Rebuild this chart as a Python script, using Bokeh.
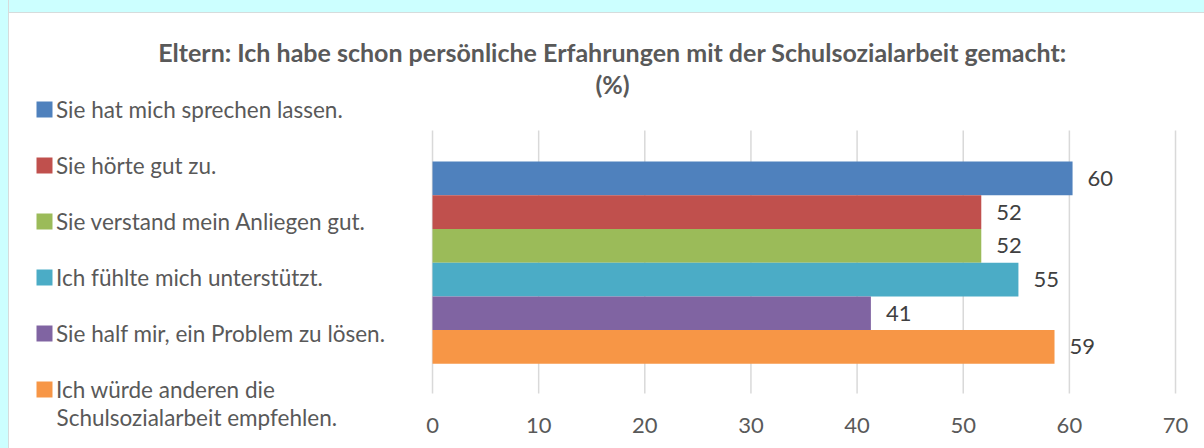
from bokeh.plotting import figure
from bokeh.models import Label, Legend, LegendItem, Range1d
from bokeh.embed import file_html
from bokeh.resources import INLINE
from bokeh.core.properties import value

title_line1 = "Eltern: Ich habe schon persönliche Erfahrungen mit der Schulsozialarbeit gemacht:"
title_line2 = "(%)"
categories = [
    "Sie hat mich sprechen lassen.",
    "Sie hörte gut zu.",
    "Sie verstand mein Anliegen gut.",
    "Ich fühlte mich unterstützt.",
    "Sie half mir, ein Problem zu lösen.",
    "Ich würde anderen die\nSchulsozialarbeit empfehlen.",
]
values = [60.3, 51.7, 51.7, 55.2, 41.3, 58.6]
colors = ["#4f81bd", "#c0504d", "#9bbb59", "#4bacc6", "#8064a2", "#f79646"]
x_ticks = [0, 10, 20, 30, 40, 50, 60, 70]
x_tick_labels = ["0", "10", "20", "30", "40", "50", "60", "70"]

FONT = "Lato"
TEXT = "#595959"

n = len(categories)
ypos = [n - 1 - i for i in range(n)]
value_labels = [f"{v:.0f}" for v in values]

# plot area: value 0 at 432px, 70 at 1175px; bars 161px..363px
p = figure(width=1204, height=448, output_backend="svg", toolbar_location=None,
           x_range=Range1d(-40.70, 72.73), y_range=Range1d(-3.011, 10.275),
           min_border=0)
p.border_fill_color = None
p.background_fill_color = None
p.outline_line_color = None
p.axis.visible = False
p.grid.visible = False

GRID_Y0, GRID_Y1, TICK_Y = -1.38, 6.42, -2.33
p.segment(x0=x_ticks, x1=x_ticks, y0=[GRID_Y0] * len(x_ticks), y1=[GRID_Y1] * len(x_ticks),
          line_color="#d9d9d9", line_width=1.5)
p.text(x=x_ticks, y=[TICK_Y] * len(x_ticks), text=x_tick_labels,
       text_align="center", text_baseline="middle",
       text_font=value(FONT), text_font_size="22px", text_color=TEXT)

items = []
extra_lines = []
for i in range(n):
    r = p.hbar(y=ypos[i], left=0, right=values[i], height=1.0,
               fill_color=colors[i], line_color=None)
    lines = categories[i].split("\n")
    items.append(LegendItem(label=lines[0], renderers=[r]))
    extra_lines.append(lines[1:])

p.text(x=values, y=ypos, text=value_labels, x_offset=15,
       text_align="left", text_baseline="middle",
       text_font=value(FONT), text_font_size="22px", text_color="#404040")

legend = Legend(items=items, location=(34, 45), orientation="vertical",
                glyph_width=20, glyph_height=20, label_standoff=2,
                label_height=28, spacing=28, padding=0, margin=0,
                label_text_font=FONT, label_text_font_size="22.5px",
                label_text_color=TEXT,
                border_line_color=None, background_fill_color=None)
p.add_layout(legend, "center")

# continuation line of the wrapped last legend entry
for more in extra_lines:
    for line in more:
        p.add_layout(Label(x=56, y=31, x_units="screen", y_units="screen", text=line,
                           text_align="left", text_baseline="middle", text_font=FONT,
                           text_font_size="22.5px", text_color=TEXT))

p.add_layout(Label(x=612, y=397, x_units="screen", y_units="screen", text=title_line1,
                   text_align="center", text_baseline="middle", text_font=FONT,
                   text_font_size="25px", text_font_style="bold", text_color=TEXT))
p.add_layout(Label(x=612, y=365, x_units="screen", y_units="screen", text=title_line2,
                   text_align="center", text_baseline="middle", text_font=FONT,
                   text_font_size="25px", text_font_style="bold", text_color=TEXT))

html = file_html(p, INLINE)
css = ("<style>body{background:linear-gradient(to right,#ccffff 0,#ccffff 8px,#d6dcdc 8px,#d6dcdc 9px,transparent 9px),"
       "linear-gradient(to bottom,#ccffff 0,#ccffff 12px,#d6dcdc 12px,#d6dcdc 13px,#ffffff 13px);"
       "background-attachment:fixed;}</style></head>")
html = html.replace("</head>", css, 1)
open("out.html", "w").write(html)
